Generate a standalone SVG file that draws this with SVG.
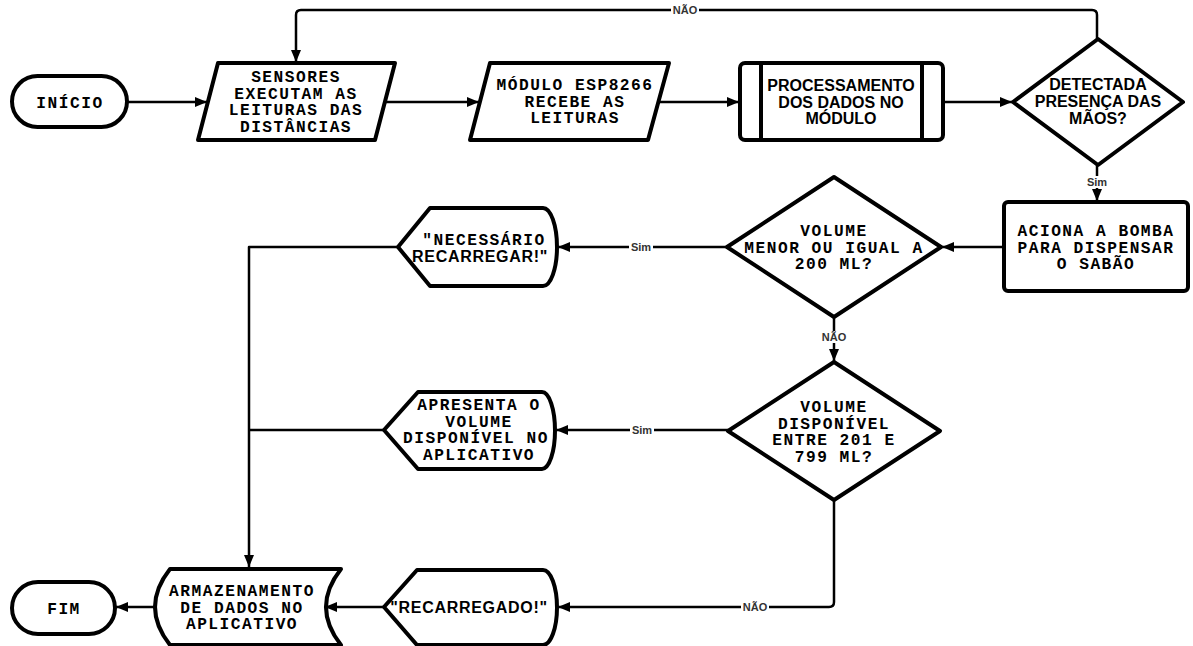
<svg xmlns="http://www.w3.org/2000/svg" width="1193" height="646" viewBox="0 0 1193 646">
<style>
.n{fill:#fff;stroke:#000;stroke-width:4;stroke-linejoin:round}
.c{fill:none;stroke:#000;stroke-width:2.5;stroke-linejoin:round}
.m{font-family:"Liberation Mono","DejaVu Sans Mono",monospace;font-weight:bold;font-size:16.2px;letter-spacing:1.5px;text-anchor:middle;fill:#000}
.s{font-family:"Liberation Sans",Arial,sans-serif;font-weight:bold;font-size:16px;text-anchor:middle;fill:#000}
.sw{letter-spacing:0.7px}
.l{font-family:"Liberation Sans",Arial,sans-serif;font-weight:bold;font-size:11px;text-anchor:middle;fill:#333}
.lb{fill:#fff}
</style>
<defs>
<marker id="a" viewBox="0 0 12 10" refX="12" refY="5" markerWidth="12" markerHeight="10" markerUnits="userSpaceOnUse" orient="auto">
<path d="M0,0 L12,5 L0,10 z" fill="#000"/>
</marker>
</defs>
<g id="connectors">
<path class="c" d="M1097 39 L1097 15 Q1097 10 1092 10 L301 10 Q296 10 296 15 L296 62" marker-end="url(#a)"/>
<path class="c" d="M128 102 L207 102" marker-end="url(#a)"/>
<path class="c" d="M386 102 L479 102" marker-end="url(#a)"/>
<path class="c" d="M659 102 L739 102" marker-end="url(#a)"/>
<path class="c" d="M943 102 L1012 102" marker-end="url(#a)"/>
<path class="c" d="M1097 165 L1097 201" marker-end="url(#a)"/>
<path class="c" d="M1004 247 L942 247" marker-end="url(#a)"/>
<path class="c" d="M727 247 L558 247" marker-end="url(#a)"/>
<path class="c" d="M398 247 L249 247 L249 567" marker-end="url(#a)"/>
<path class="c" d="M384 430 L249 430"/>
<path class="c" d="M728 430 L556 430" marker-end="url(#a)"/>
<path class="c" d="M834 317 L834 361" marker-end="url(#a)"/>
<path class="c" d="M834 500 L834 602 Q834 607 829 607 L558 607" marker-end="url(#a)"/>
<path class="c" d="M384 607 L325 607" marker-end="url(#a)"/>
<path class="c" d="M155 607 L116 607" marker-end="url(#a)"/>
<rect class="lb" x="671" y="4" width="28" height="12"/>
<text class="l" x="685" y="14">NÃO</text>
<rect class="lb" x="1085" y="176" width="24" height="12"/>
<text class="l" x="1097" y="186">Sim</text>
<rect class="lb" x="629" y="241" width="24" height="12"/>
<text class="l" x="641" y="251">Sim</text>
<rect class="lb" x="820" y="331" width="28" height="12"/>
<text class="l" x="834" y="341">NÃO</text>
<rect class="lb" x="630" y="424" width="24" height="12"/>
<text class="l" x="642" y="434">Sim</text>
<rect class="lb" x="741" y="601" width="28" height="12"/>
<text class="l" x="755" y="611">NÃO</text>
</g>
<g id="inicio">
<rect class="n" x="12" y="76" width="115" height="51" rx="25.5"/>
<text class="m" x="70" y="108">INÍCIO</text>
</g>
<g id="sensores">
<path class="n" d="M218 63 L395 63 L375 140 L198 140 Z"/>
<text class="m" x="296" y="82">SENSORES</text>
<text class="m" x="296" y="98.5">EXECUTAM AS</text>
<text class="m" x="296" y="115">LEITURAS DAS</text>
<text class="m" x="296" y="131.5">DISTÂNCIAS</text>
</g>
<g id="esp">
<path class="n" d="M490 63 L669 63 L648 140 L470 140 Z"/>
<text class="m" x="575" y="90">MÓDULO ESP8266</text>
<text class="m" x="575" y="106.5">RECEBE AS</text>
<text class="m" x="575" y="123">LEITURAS</text>
</g>
<g id="processamento">
<rect class="n" x="740" y="63" width="203" height="77" rx="5"/>
<line class="n" x1="761" y1="63" x2="761" y2="140"/>
<line class="n" x1="922" y1="63" x2="922" y2="140"/>
<text class="s" x="841" y="90.5">PROCESSAMENTO</text>
<text class="s" x="841" y="107.5">DOS DADOS NO</text>
<text class="s" x="841" y="124">MÓDULO</text>
</g>
<g id="detectada">
<path class="n" d="M1098 39 L1183 102 L1098 165 L1013 102 Z"/>
<text class="s" x="1098" y="90">DETECTADA</text>
<text class="s" x="1098" y="107">PRESENÇA DAS</text>
<text class="s" x="1098" y="124">MÃOS?</text>
</g>
<g id="aciona">
<rect class="n" x="1004" y="202" width="184" height="89" rx="4"/>
<text class="m" x="1096" y="236">ACIONA A BOMBA</text>
<text class="m" x="1096" y="252.5">PARA DISPENSAR</text>
<text class="m" x="1096" y="269">O SABÃO</text>
</g>
<g id="volume-menor">
<path class="n" d="M834 177 L941 247 L834 317 L727 247 Z"/>
<text class="m" x="834" y="236">VOLUME</text>
<text class="m" x="834" y="252.5">MENOR OU IGUAL A</text>
<text class="m" x="834" y="269">200 ML?</text>
</g>
<g id="necessario">
<path class="n" d="M398 247 L430 208 L543 208 A14 39 0 0 1 543 286 L430 286 Z"/>
<text class="m" x="484" y="244.5">"NECESSÁRIO</text>
<text class="s sw" x="480" y="261.5">RECARREGAR!"</text>
</g>
<g id="volume-disponivel">
<path class="n" d="M834 362 L940 431 L834 500 L728 431 Z"/>
<text class="m" x="834" y="412">VOLUME</text>
<text class="m" x="834" y="428.5">DISPONÍVEL</text>
<text class="m" x="834" y="445">ENTRE 201 E</text>
<text class="m" x="834" y="461.5">799 ML?</text>
</g>
<g id="apresenta">
<path class="n" d="M384 430 L418 392 L542 392 A13 38.5 0 0 1 542 469 L418 469 Z"/>
<text class="m" x="479" y="410">APRESENTA O</text>
<text class="m" x="479" y="426.5">VOLUME</text>
<text class="m" x="476" y="443">DISPONÍVEL NO</text>
<text class="m" x="479" y="459.5">APLICATIVO</text>
</g>
<g id="recarregado">
<path class="n" d="M384 607 L417 570 L543 570 A14 37.5 0 0 1 543 645 L417 645 Z"/>
<text class="s sw" x="469" y="613">"RECARREGADO!"</text>
</g>
<g id="armazenamento">
<path class="n" d="M170 569 L341 569 Q311 607 341 645 L170 645 Q140 607 170 569 Z"/>
<text class="m" x="242" y="596">ARMAZENAMENTO</text>
<text class="m" x="242" y="612.5">DE DADOS NO</text>
<text class="m" x="242" y="629">APLICATIVO</text>
</g>
<g id="fim">
<rect class="n" x="12" y="582" width="103" height="52" rx="26"/>
<text class="m" x="64" y="614">FIM</text>
</g>
</svg>
